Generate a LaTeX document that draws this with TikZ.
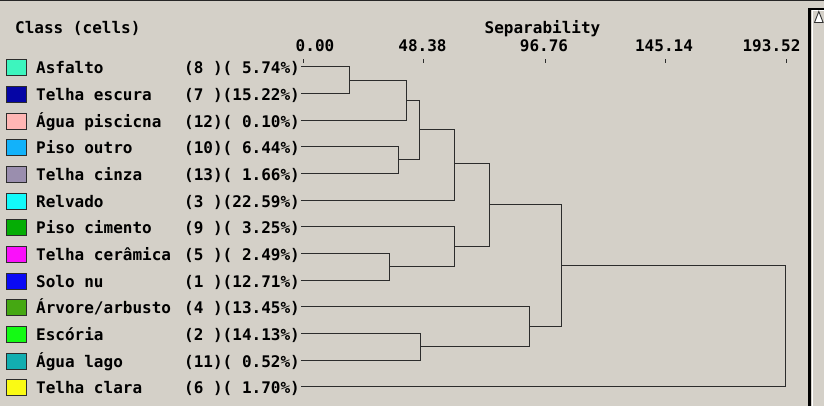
\documentclass[tikz,border=0pt]{standalone}
\usepackage{fontspec}
\newfontfamily\dmono{DejaVu Sans Mono}
\definecolor{bgc}{HTML}{D4D0C8}
\definecolor{lnc}{HTML}{2C2C2C}
\definecolor{c0}{HTML}{3DF5BE}
\definecolor{c1}{HTML}{0505A5}
\definecolor{c2}{HTML}{FFB6B4}
\definecolor{c3}{HTML}{12B2FA}
\definecolor{c4}{HTML}{9A8EAE}
\definecolor{c5}{HTML}{12FAFA}
\definecolor{c6}{HTML}{05AD05}
\definecolor{c7}{HTML}{FA10FA}
\definecolor{c8}{HTML}{0A0AF5}
\definecolor{c9}{HTML}{45A812}
\definecolor{c10}{HTML}{14FA14}
\definecolor{c11}{HTML}{12AEB0}
\definecolor{c12}{HTML}{FAFA14}
\tikzset{
  txt/.style={font=\dmono\bfseries\fontsize{16}{16}\selectfont, inner sep=0pt, text=black},
  swatch/.style={draw=lnc, line width=1pt, minimum width=20pt, minimum height=16pt, inner sep=0pt},
  dline/.style={draw=lnc, line width=1pt, line cap=rect},
  tickst/.style={draw=lnc, line width=1pt}
}
\newcommand\drow[4]{%
  \node[swatch, fill=#4] (s#1) at (16.5, {floor(66.67+26.667*#1)+1.5}) {};
  \node[txt, anchor=base west] (n#1) at (36, {floor(66.67+26.667*#1)+7.5}) {#2};
  \node[txt, anchor=base east] (v#1) at (300, {floor(66.67+26.667*#1)+7.5}) {#3};
  \coordinate (l#1) at (301.5, {floor(66.67+26.667*#1)+0.5});
}
\begin{document}
\begin{tikzpicture}[x=1pt,y=-1pt]
\useasboundingbox (0,0) rectangle (824,406);
\fill[bgc] (0,0) rectangle (824,406);
\fill[black!85] (0,0) rectangle (824,1.5);
% scrollbar
\fill[black] (808,8) rectangle (810.6,406);
\fill[black] (808,8) rectangle (824,9.6);
\fill[white] (811.6,10) rectangle (813.2,406);
\fill[white] (811.6,10) rectangle (824,11.4);
\filldraw[fill=white, draw=black!80, line width=0.9pt] (814.5,22.5) -- (818.8,11.5) -- (823.1,22.5) -- cycle;
% headers
\node[txt, anchor=base west] (hclass) at (15,33.3) {Class (cells)};
\node[txt, anchor=base] (hsep) at (542.5,33.3) {Separability};
\node[txt, anchor=base] (t0) at (315,51.7) {0.00};
\node[txt, anchor=base] (t1) at (422.5,51.7) {48.38};
\node[txt, anchor=base] (t2) at (544,51.7) {96.76};
\node[txt, anchor=base] (t3) at (664,51.7) {145.14};
\node[txt, anchor=base] (t4) at (771.5,51.7) {193.52};
\foreach \tx in {303.5,423.5,545.5,665.5,786.5}{\draw[tickst] (\tx,59.5) -- (\tx,63);}
% rows
\drow{0}{Asfalto}{(8 )( 5.74\%)}{c0}
\drow{1}{Telha escura}{(7 )(15.22\%)}{c1}
\drow{2}{Água piscicna}{(12)( 0.10\%)}{c2}
\drow{3}{Piso outro}{(10)( 6.44\%)}{c3}
\drow{4}{Telha cinza}{(13)( 1.66\%)}{c4}
\drow{5}{Relvado}{(3 )(22.59\%)}{c5}
\drow{6}{Piso cimento}{(9 )( 3.25\%)}{c6}
\drow{7}{Telha cerâmica}{(5 )( 2.49\%)}{c7}
\drow{8}{Solo nu}{(1 )(12.71\%)}{c8}
\drow{9}{Árvore/arbusto}{(4 )(13.45\%)}{c9}
\drow{10}{Escória}{(2 )(14.13\%)}{c10}
\drow{11}{Água lago}{(11)( 0.52\%)}{c11}
\drow{12}{Telha clara}{(6 )( 1.70\%)}{c12}
% merge points
\coordinate (m1) at (349.5,80.5);
\coordinate (m2) at (406.5,100.5);
\coordinate (m3) at (398.5,159.5);
\coordinate (m4) at (419.5,129.5);
\coordinate (m5) at (454.5,163.5);
\coordinate (m6) at (389.5,266.5);
\coordinate (m7) at (454.5,246.5);
\coordinate (m8) at (489.5,204.5);
\coordinate (m9) at (420.5,346.5);
\coordinate (m10) at (529.5,326.5);
\coordinate (m11) at (561.5,265.5);
\coordinate (m12) at (785.5,326.5);
% dendrogram
\draw[dline] (l0) -| (m1);
\draw[dline] (l1) -| (m1);
\draw[dline] (m1) -| (m2);
\draw[dline] (l2) -| (m2);
\draw[dline] (l3) -| (m3);
\draw[dline] (l4) -| (m3);
\draw[dline] (m2) -| (m4);
\draw[dline] (m3) -| (m4);
\draw[dline] (m4) -| (m5);
\draw[dline] (l5) -| (m5);
\draw[dline] (l7) -| (m6);
\draw[dline] (l8) -| (m6);
\draw[dline] (l6) -| (m7);
\draw[dline] (m6) -| (m7);
\draw[dline] (m5) -| (m8);
\draw[dline] (m7) -| (m8);
\draw[dline] (l10) -| (m9);
\draw[dline] (l11) -| (m9);
\draw[dline] (l9) -| (m10);
\draw[dline] (m9) -| (m10);
\draw[dline] (m8) -| (m11);
\draw[dline] (m10) -| (m11);
\draw[dline] (m11) -| (m12);
\draw[dline] (l12) -| (m12);
\end{tikzpicture}
\end{document}
